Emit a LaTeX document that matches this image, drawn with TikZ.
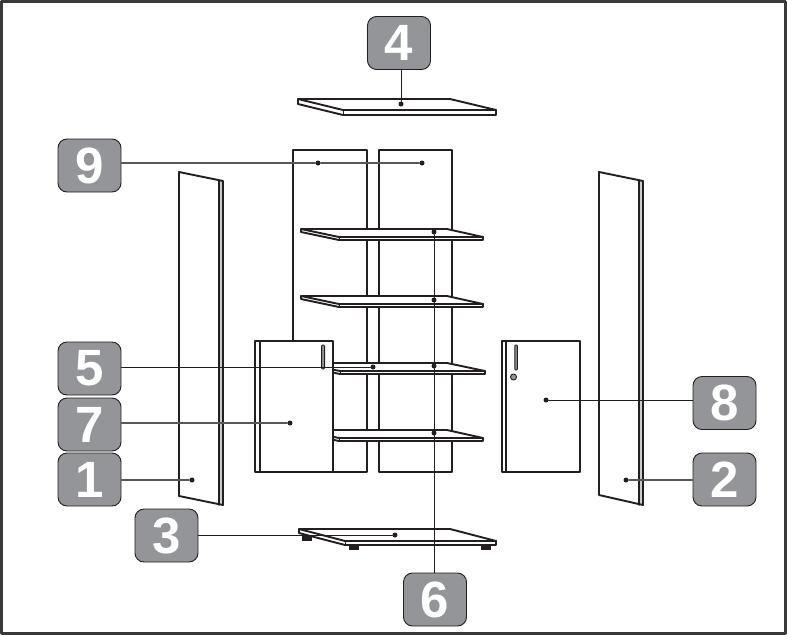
\documentclass[tikz,border=0pt]{standalone}
\usepackage{fontspec}
\setmainfont{Liberation Sans}
\definecolor{ink}{HTML}{231F20}
\definecolor{badgegray}{HTML}{939598}
\definecolor{framegray}{HTML}{3A3A3C}
\begin{document}
\begin{tikzpicture}[x=1pt,y=-1pt,line join=round,line cap=round,
  badge/.style={draw=ink,line width=0.9pt,fill=badgegray,rounded corners=9pt,minimum width=63pt,minimum height=53pt,inner sep=0pt,text=white,font=\fontsize{51}{51}\selectfont\bfseries},
  dotnode/.style={circle,fill=ink,inner sep=0pt,minimum size=5pt},
  part/.style={draw=ink,line width=1.9pt,fill=white},
  thin part/.style={draw=ink,line width=1.4pt,fill=white},
  leader/.style={draw=ink,line width=1pt},
  softleader/.style={draw=ink!75,line width=1.1pt},
  foot/.style={fill=ink,draw=none},
  grip/.style={draw=ink,line width=0.9pt,fill=badgegray}]
\useasboundingbox (0,0) rectangle (787,635);
\fill[white] (0,0) rectangle (787,635);
\draw[framegray,line width=2.6pt,line cap=butt] (1.2,1.2) rectangle (785.3,633.3);

% back panels
\draw[part] (293,340) -- (293,150) -- (367,150) -- (367,472) -- (333,472);
\draw[part] (379,150) rectangle (452,472);

% shelves
\foreach \y/\l/\r in {229/339/483, 296/339/483, 363/340/485, 430/339/483}{
  \draw[part] (301,\y) -- (447,\y) -- (\r,\y+8) -- (\r,\y+11) -- (\l,\y+11) -- (301,\y+3) -- cycle;
  \draw[draw=ink,line width=1.9pt] (301,\y) -- (\l,\y+8) -- (\r,\y+8);
  \draw[line width=0.9pt,draw=ink] (\l,\y+8) -- (\l,\y+11);
}

% top shelf
\draw[part] (298,99) -- (450,99) -- (496,110) -- (496,115) -- (343,115) -- (298,104) -- cycle;
\draw[part,fill=none] (298,99) -- (343,110) -- (496,110);
\draw[line width=1pt,draw=ink] (343,110) -- (343,115);

% bottom shelf with feet
\fill[foot] (302,536) rectangle (312,541);
\fill[foot] (349,545) rectangle (359,550);
\fill[foot] (481,545) rectangle (491,550);
\draw[part] (299,529) -- (450,529) -- (496,541) -- (496,545) -- (345,545) -- (299,533) -- cycle;
\draw[part,fill=none] (299,529) -- (345,541) -- (496,541);
\draw[line width=1pt,draw=ink] (345,541) -- (345,545);

% side panels
\fill[white] (179,172) -- (223,181) -- (223,505) -- (179,496) -- cycle;
\fill[badgegray!50] (219,180) rectangle (223,505);
\draw[part,fill=none] (179,172) -- (223,181) -- (223,505) -- (179,496) -- cycle;
\draw[thin part,fill=none] (219,180) -- (219,505);
\fill[white] (599,172) -- (643,181) -- (643,505) -- (599,495) -- cycle;
\fill[badgegray!50] (639,180) rectangle (643,505);
\draw[part,fill=none] (599,172) -- (643,181) -- (643,505) -- (599,495) -- cycle;
\draw[thin part,fill=none] (639,180) -- (639,505);

% doors
\draw[part] (255,341) rectangle (333,472);
\draw[draw=ink,line width=1.9pt] (260,341) -- (260,472);
\draw[grip,rounded corners=1pt] (321.6,345) rectangle (324.6,369);
\draw[part] (502,341) rectangle (580,472);
\draw[draw=ink,line width=1.9pt] (506,341) -- (506,472);
\draw[grip,rounded corners=1pt] (514.8,345) rectangle (517.4,370);
\draw[grip] (513.5,377) circle (3pt);

% badges
\node[badge] (b4) at (399,43) {4};
\node[badge] (b9) at (89.5,165.5) {9};
\node[badge] (b5) at (89.5,368.5) {5};
\node[badge] (b7) at (89.5,424.5) {7};
\node[badge] (b1) at (89.5,479.5) {1};
\node[badge] (b8) at (724.5,403) {8};
\node[badge] (b2) at (724.5,479.5) {2};
\node[badge] (b3) at (166.5,535.5) {3};
\node[badge] (b6) at (435,599.5) {6};

% anchor dots
\node[dotnode] (d4) at (401,104) {};
\node[dotnode] (d9a) at (318,163) {};
\node[dotnode] (d9b) at (422,163) {};
\node[dotnode] (d5) at (373,367) {};
\node[dotnode] (d7) at (290,423) {};
\node[dotnode] (d1) at (192,480) {};
\node[dotnode] (d8) at (546,400) {};
\node[dotnode] (d2) at (626,480) {};
\node[dotnode] (d3) at (395,535) {};
\node[dotnode] (d6a) at (434,232) {};
\node[dotnode] (d6b) at (434,300) {};
\node[dotnode] (d6c) at (434,366) {};
\node[dotnode] (d6d) at (434,433) {};

% leaders
\draw[leader] (b4.south -| d4) -- (d4);
\draw[softleader] (b9.east |- d9a) -- (d9a) -- (d9b);
\draw[leader] (b5.east |- d5) -- (d5);
\draw[softleader] (b7.east |- d7) -- (d7);
\draw[softleader] (b1.east |- d1) -- (d1);
\draw[leader] (b8.west |- d8) -- (d8);
\draw[softleader] (b2.west |- d2) -- (d2);
\draw[leader] (b3.east |- d3) -- (d3);
\draw[leader] (b6.north -| d6a) -- (d6d) -- (d6c) -- (d6b) -- (d6a);
\end{tikzpicture}
\end{document}
